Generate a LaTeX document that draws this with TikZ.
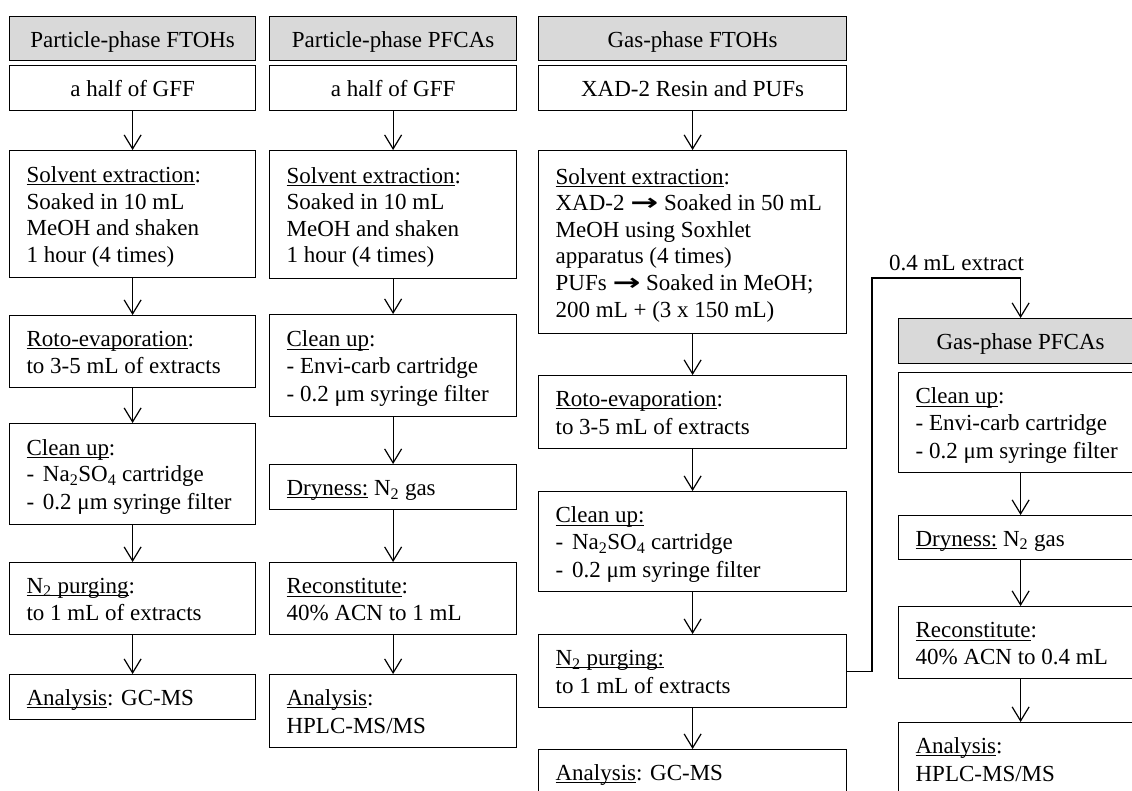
\documentclass[tikz,border=0pt]{standalone}
\usepackage{fontspec}
\usepackage{graphicx}
\setmainfont{Liberation Serif}
\newfontfamily\arrowfont{DejaVu Sans}
\usetikzlibrary{arrows.meta}

\definecolor{headgray}{HTML}{D9D9D9}
\newcommand\bodyfont{\fontsize{23}{26.6}\selectfont}
% strut fixing the first baseline and the last depth of each box
\newcommand\bxstrut{\rule[-4.75pt]{0pt}{26.5pt}}
\newsavebox\ulbox
\newcommand\uln[1]{\sbox\ulbox{#1}\rlap{\rule[-2.6pt]{\wd\ulbox}{0.9pt}}\usebox\ulbox}
\newcommand\rarr{{\arrowfont\bfseries\scalebox{1.45}[1]{→}}}
\newcommand\sub[1]{\textsubscript{#1}}

\tikzset{
  box/.style={draw, line width=1.2pt, anchor=north west, inner xsep=17pt,
    inner ysep=0pt, align=flush left, font=\bodyfont},
  head/.style={box, fill=headgray, align=flush center},
  mid/.style={box, align=flush center},
  flow/.style={line width=1.2pt,
    -{Straight Barb[length=14pt,width=17pt,line width=1.2pt]}},
  lbl/.style={font=\bodyfont, inner sep=0pt},
}

\begin{document}
\begin{tikzpicture}[x=1pt,y=-1pt]
\useasboundingbox (0,0) rectangle (1132,790);
\fill[white] (0,0) rectangle (1132,790);
\clip (0,0) rectangle (1132,790);

% ---------- Particle-phase FTOHs ----------
\node[head, text width=212pt, minimum height=44pt] (h1) at (9,16) {\bxstrut Particle-phase FTOHs\bxstrut};
\node[mid, text width=212pt, minimum height=45pt] (a1) at (9,65) {\bxstrut a half of GFF\bxstrut};
\node[box, text width=212pt, minimum height=127pt] (b1) at (9,150)
  {\bxstrut\uln{Solvent extraction}:\\ Soaked in 10 mL\\ MeOH and shaken\\ 1 hour (4 times)\bxstrut};
\node[box, text width=212pt, minimum height=72pt] (c1) at (9,315)
  {\bxstrut\uln{Roto-evaporation}:\\ to 3-5 mL of extracts\bxstrut};
\node[box, text width=212pt, minimum height=101pt] (d1) at (9,423)
  {\bxstrut\uln{Clean up}:\\ - \hspace{3pt}Na\sub{2}SO\sub{4} cartridge\\ - \hspace{3pt}0.2 μm syringe filter\bxstrut};
\node[box, text width=212pt, minimum height=72pt] (e1) at (9,562)
  {\bxstrut\uln{N\sub{2} purging}:\\ to 1 mL of extracts\bxstrut};
\node[box, text width=212pt, minimum height=45pt] (f1) at (9,674)
  {\bxstrut\uln{Analysis}: GC-MS\bxstrut};

% ---------- Particle-phase PFCAs ----------
\node[head, text width=213pt, minimum height=44pt] (h2) at (269,16) {\bxstrut Particle-phase PFCAs\bxstrut};
\node[mid, text width=213pt, minimum height=45pt] (a2) at (269,65) {\bxstrut a half of GFF\bxstrut};
\node[box, text width=213pt, minimum height=128pt] (b2) at (269,150)
  {\bxstrut\uln{Solvent extraction}:\\ Soaked in 10 mL\\ MeOH and shaken\\ 1 hour (4 times)\bxstrut};
\node[box, text width=213pt, minimum height=102pt] (c2) at (269,314)
  {\bxstrut\uln{Clean up}:\\ - Envi-carb cartridge\\ - 0.2 μm syringe filter\bxstrut};
\node[box, text width=213pt, minimum height=45pt] (d2) at (269,464)
  {\bxstrut\uln{Dryness:} N\sub{2} gas\bxstrut};
\node[box, text width=213pt, minimum height=72pt] (e2) at (269,562)
  {\bxstrut\uln{Reconstitute}:\\ 40\% ACN to 1 mL\bxstrut};
\node[box, text width=213pt, minimum height=73pt] (f2) at (269,674)
  {\bxstrut\uln{Analysis}:\\ HPLC-MS/MS\bxstrut};

% ---------- Gas-phase FTOHs ----------
\node[head, text width=274pt, minimum height=44pt] (h3) at (538,16) {\bxstrut Gas-phase FTOHs\bxstrut};
\node[mid, text width=274pt, minimum height=45pt] (a3) at (538,65) {\bxstrut XAD-2 Resin and PUFs\bxstrut};
\node[box, text width=274pt, minimum height=183pt] (b3) at (538,150)
  {\bxstrut\uln{Solvent extraction}:\\ XAD-2 \rarr{} Soaked in 50 mL\\ MeOH using Soxhlet\\ apparatus (4 times)\\ PUFs \rarr{} Soaked in MeOH;\\ 200 mL + (3 x 150 mL)\bxstrut};
\node[box, text width=274pt, minimum height=73pt] (c3) at (538,375)
  {\bxstrut\uln{Roto-evaporation}:\\ to 3-5 mL of extracts\bxstrut};
\node[box, text width=274pt, minimum height=100pt] (d3) at (538,491)
  {\bxstrut\uln{Clean up:}\\ - \hspace{3pt}Na\sub{2}SO\sub{4} cartridge\\ - \hspace{3pt}0.2 μm syringe filter\bxstrut};
\node[box, text width=274pt, minimum height=73pt] (e3) at (538,634)
  {\bxstrut\uln{N\sub{2} purging:}\\ to 1 mL of extracts\bxstrut};
\node[box, text width=274pt, minimum height=45pt] (f3) at (538,749)
  {\bxstrut\uln{Analysis}: GC-MS\bxstrut};

% ---------- Gas-phase PFCAs ----------
\node[head, text width=210pt, minimum height=45pt] (h4) at (898,318) {\bxstrut Gas-phase PFCAs\bxstrut};
\node[box, text width=210pt, minimum height=100pt] (b4) at (898,372)
  {\bxstrut\uln{Clean up}:\\ - Envi-carb cartridge\\ - 0.2 μm syringe filter\bxstrut};
\node[box, text width=210pt, minimum height=44pt] (c4) at (898,515)
  {\bxstrut\uln{Dryness:} N\sub{2} gas\bxstrut};
\node[box, text width=210pt, minimum height=72pt] (d4) at (898,606)
  {\bxstrut\uln{Reconstitute}:\\ 40\% ACN to 0.4 mL\bxstrut};
\node[box, text width=210pt, minimum height=73pt] (e4) at (898,722)
  {\bxstrut\uln{Analysis}:\\ HPLC-MS/MS\bxstrut};

% ---------- flow arrows ----------
\foreach \u/\v in {a1/b1, b1/c1, c1/d1, d1/e1, e1/f1,
                   a2/b2, b2/c2, c2/d2, d2/e2, e2/f2,
                   a3/b3, b3/c3, c3/d3, d3/e3, e3/f3,
                   b4/c4, c4/d4, d4/e4}
  \draw[flow] (\u.south) -- (\v.north);

% split of the extract towards the gas-phase PFCAs
\coordinate (turn) at (872,278);
\draw[flow] (e3.east) -| (turn) -| (h4.north);
\node[lbl, anchor=base west] (split) at (889,270) {0.4 mL extract};
\end{tikzpicture}
\end{document}
